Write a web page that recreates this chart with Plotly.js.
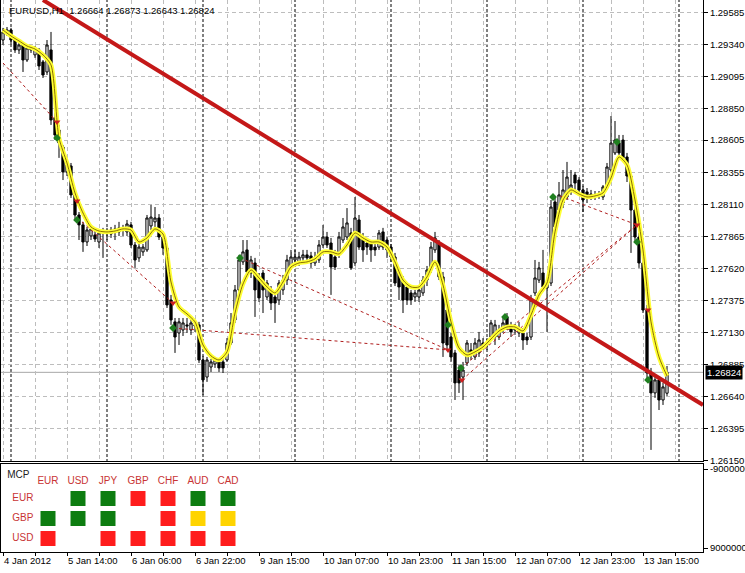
<!DOCTYPE html>
<html>
<head>
<meta charset="utf-8">
<script src="https://cdn.plot.ly/plotly-3.0.1.min.js"></script>
<style>html,body{margin:0;padding:0;background:#fff;}#chart{width:745px;height:573px;}</style>
</head>
<body>
<div id="chart"></div>
<script>
// ---------- DATA (EURUSD H1, bar index = hourly bar number) ----------
const openP = [
1.29373,1.29435,1.29450,1.29373,1.29297,1.29335,1.29220,1.29312,1.29259,1.29297,
1.29205,1.29128,1.29297,1.28775,1.28683,1.28552,1.28361,1.28407,1.28185,1.28031,
1.27955,1.27824,1.27870,1.27878,1.27824,1.27901,1.27893,1.27885,1.27908,1.27901,
1.27924,1.27901,1.27955,1.27801,1.27702,1.27748,1.27763,1.27947,1.27978,1.28008,
1.27862,1.27778,1.27379,1.27211,1.27126,1.27149,1.27188,1.27149,1.27180,1.27188,
1.26919,1.26788,1.26865,1.26888,1.26904,1.26904,1.26919,1.27049,1.27226,1.27456,
1.27671,1.27763,1.27586,1.27663,1.27556,1.27586,1.27402,1.27456,1.27402,1.27379,
1.27456,1.27532,1.27632,1.27686,1.27663,1.27702,1.27725,1.27717,1.27663,1.27686,
1.27801,1.27862,1.27816,1.27709,1.27740,1.27839,1.27862,1.27893,1.27663,1.27993,
1.27855,1.27816,1.27816,1.27785,1.27785,1.27901,1.27839,1.27785,1.27709,1.27586,
1.27532,1.27479,1.27433,1.27402,1.27402,1.27433,1.27532,1.27609,1.27763,1.27816,
1.27556,1.27302,1.27095,1.26973,1.26842,1.26788,1.26896,1.26996,1.26942,1.26973,
1.27049,1.27034,1.27095,1.27095,1.27095,1.27149,1.27249,1.27157,1.27149,1.27126,
1.27126,1.27095,1.27095,1.27433,1.27532,1.27586,1.27471,1.27509,1.28131,1.28069,
1.28123,1.28169,1.28223,1.28338,1.28299,1.28223,1.28208,1.28192,1.28185,1.28177,
1.28169,1.28238,1.28376,1.28507,1.28583,1.28606,1.28476,1.28330,1.28069,1.27862,
1.27663,1.27302,1.26819,1.26666,1.26766,1.26612,1.26664];
const highP = [
1.29466,1.29473,1.29466,1.29389,1.29350,1.29342,1.29335,1.29327,1.29327,1.29312,
1.29220,1.29373,1.29435,1.28813,1.28722,1.28568,1.28453,1.28430,1.28208,1.28054,
1.27978,1.27939,1.27947,1.27916,1.27916,1.27932,1.27932,1.27939,1.27955,1.27978,
1.27955,1.27993,1.27978,1.27824,1.27808,1.27808,1.28031,1.28108,1.28092,1.28038,
1.27901,1.27801,1.27418,1.27241,1.27241,1.27241,1.27241,1.27233,1.27218,1.27211,
1.26950,1.26942,1.26927,1.26942,1.26919,1.26927,1.27087,1.27279,1.27494,1.27725,
1.27839,1.27839,1.27717,1.27702,1.27586,1.27609,1.27532,1.27486,1.27441,1.27532,
1.27571,1.27725,1.27763,1.27763,1.27748,1.27763,1.27763,1.27748,1.27748,1.27839,
1.27955,1.27901,1.27855,1.27763,1.27901,1.28008,1.28084,1.27932,1.28169,1.28031,
1.27893,1.27855,1.27839,1.27816,1.27916,1.27932,1.27862,1.27808,1.27740,1.27609,
1.27563,1.27509,1.27456,1.27456,1.27486,1.27563,1.27640,1.27824,1.27901,1.27839,
1.27594,1.27341,1.27126,1.26996,1.26881,1.26904,1.27072,1.27049,1.27087,1.27134,
1.27087,1.27087,1.27226,1.27226,1.27188,1.27241,1.27279,1.27211,1.27195,1.27211,
1.27164,1.27126,1.27418,1.27686,1.27671,1.27763,1.27548,1.28146,1.28177,1.28284,
1.28376,1.28438,1.28376,1.28361,1.28322,1.28254,1.28238,1.28223,1.28215,1.28215,
1.28261,1.28430,1.28790,1.28752,1.28645,1.28645,1.28507,1.28346,1.28108,1.27893,
1.27702,1.27341,1.26858,1.26804,1.26796,1.26743,1.26873];
const lowP = [
1.29335,1.29404,1.29335,1.29274,1.29266,1.29128,1.29205,1.29274,1.29236,1.29143,
1.29082,1.29105,1.28722,1.28606,1.28469,1.28299,1.28330,1.28162,1.27993,1.27839,
1.27748,1.27793,1.27839,1.27824,1.27778,1.27702,1.27839,1.27855,1.27839,1.27870,
1.27870,1.27870,1.27778,1.27625,1.27671,1.27717,1.27748,1.27916,1.27932,1.27839,
1.27725,1.27318,1.27188,1.26973,1.27034,1.27103,1.27126,1.27111,1.27134,1.26896,
1.26651,1.26751,1.26827,1.26858,1.26827,1.26819,1.26904,1.27034,1.27203,1.27441,
1.27648,1.27571,1.27548,1.27249,1.27364,1.27279,1.27379,1.27302,1.27203,1.27341,
1.27418,1.27494,1.27609,1.27632,1.27640,1.27671,1.27655,1.27625,1.27640,1.27663,
1.27778,1.27778,1.27418,1.27609,1.27702,1.27816,1.27839,1.27609,1.27640,1.27763,
1.27671,1.27725,1.27671,1.27717,1.27763,1.27763,1.27702,1.27671,1.27486,1.27379,
1.27279,1.27341,1.27341,1.27364,1.27364,1.27410,1.27486,1.27586,1.27740,1.27532,
1.26942,1.26996,1.26904,1.26612,1.26666,1.26612,1.26873,1.26919,1.26919,1.26942,
1.26996,1.26996,1.27072,1.27034,1.27072,1.27126,1.27149,1.27095,1.27111,1.27095,
1.26996,1.27034,1.27072,1.27410,1.27509,1.27441,1.27134,1.27486,1.27916,1.28031,
1.28084,1.28146,1.28185,1.28223,1.28208,1.28054,1.28123,1.28146,1.28146,1.28154,
1.28146,1.28223,1.28361,1.28491,1.28491,1.28438,1.28284,1.27740,1.27824,1.27625,
1.27279,1.26781,1.26229,1.26628,1.26535,1.26574,1.26643];
const closeP = [
1.29435,1.29450,1.29373,1.29297,1.29335,1.29220,1.29312,1.29297,1.29312,1.29174,
1.29105,1.29335,1.28760,1.28645,1.28583,1.28361,1.28415,1.28185,1.28031,1.27955,
1.27824,1.27916,1.27924,1.27847,1.27893,1.27893,1.27901,1.27916,1.27924,1.27932,
1.27916,1.27962,1.27801,1.27686,1.27785,1.27785,1.28008,1.28015,1.28008,1.27862,
1.27778,1.27341,1.27226,1.27095,1.27211,1.27203,1.27180,1.27203,1.27188,1.26919,
1.26766,1.26919,1.26904,1.26919,1.26858,1.26858,1.27049,1.27203,1.27456,1.27686,
1.27748,1.27594,1.27686,1.27456,1.27395,1.27456,1.27509,1.27356,1.27356,1.27509,
1.27532,1.27686,1.27709,1.27709,1.27709,1.27725,1.27702,1.27663,1.27702,1.27801,
1.27862,1.27801,1.27632,1.27632,1.27862,1.27939,1.27970,1.27625,1.28008,1.27785,
1.27763,1.27785,1.27763,1.27763,1.27893,1.27785,1.27763,1.27709,1.27509,1.27479,
1.27379,1.27379,1.27379,1.27433,1.27456,1.27532,1.27609,1.27785,1.27855,1.27556,
1.27049,1.27034,1.26942,1.26743,1.26743,1.26842,1.27049,1.26973,1.27049,1.27072,
1.27019,1.27049,1.27203,1.27188,1.27149,1.27203,1.27157,1.27134,1.27164,1.27157,
1.27072,1.27072,1.27379,1.27548,1.27625,1.27479,1.27509,1.28092,1.27939,1.28185,
1.28223,1.28322,1.28261,1.28276,1.28223,1.28146,1.28169,1.28177,1.28169,1.28185,
1.28246,1.28399,1.28583,1.28606,1.28507,1.28469,1.28330,1.28069,1.27862,1.27663,
1.27302,1.26819,1.26666,1.26766,1.26612,1.26712,1.26824];

// Moving average read every 2 bars (bar 0,2,4,...)
const maValues = [
1.29450,1.29404,1.29366,1.29327,1.29304,1.29259,1.29182,1.28622,1.28430,1.28200,
1.28046,1.27939,1.27908,1.27901,1.27908,1.27924,1.27916,1.27824,1.27855,1.27924,
1.27885,1.27517,1.27325,1.27272,1.27211,1.27034,1.26950,1.26919,1.26981,1.27279,
1.27502,1.27609,1.27548,1.27479,1.27433,1.27517,1.27632,1.27663,1.27671,1.27694,
1.27748,1.27748,1.27732,1.27801,1.27893,1.27855,1.27824,1.27824,1.27785,1.27671,
1.27532,1.27479,1.27479,1.27556,1.27671,1.27494,1.27211,1.27011,1.26957,1.26981,
1.27019,1.27080,1.27141,1.27172,1.27172,1.27141,1.27264,1.27418,1.27509,1.27901,
1.28146,1.28223,1.28192,1.28169,1.28177,1.28200,1.28315,1.28476,1.28415,1.28146,
1.27763,1.27211,1.26942,1.26796];

// Signal arrows
const greenBar   = [13.5, 18.5, 42.5, 59.25, 111.25, 114.5, 125.5, 137.5, 153.5, 158.5, 161.25];
const greenPrice = [1.28622,1.27993,1.27164,1.27702,1.27188,1.26858,1.27249,1.28169,1.28591,1.27824,1.26766];
const redBar     = [13.5, 18.5, 42.5, 111.25, 114.75, 158.5, 161.25];
const redPrice   = [1.28745,1.28138,1.27356,1.26996,1.26766,1.27955,1.27302];

// Thin dashed pattern lines (start bar/price -> end bar/price)
const dashX0 = [0, 19.75, 42.5, 59.25, 114.75, 114.5, 139.25];
const dashY0 = [1.29197,1.27978,1.27164,1.27702,1.26766,1.26858,1.28177];
const dashX1 = [13.5, 42.5, 111.25, 111.25, 158.5, 158.5, 158.5];
const dashY1 = [1.28745,1.27356,1.26996,1.26996,1.27955,1.27955,1.27955];

// Trend line
const trendBar   = [10, 175];
const trendPrice = [1.29680, 1.26574];

// Axis
const priceTicks = [1.29585,1.29340,1.29095,1.28850,1.28605,1.28355,1.28110,1.27865,1.27620,1.27375,1.27130,1.26885,1.26640,1.26395,1.26150];
const timeTickBars = [0,16,32,48,64,80,96,112,128,144,160];
const timeTickText = ['4 Jan 2012','5 Jan 14:00','6 Jan 06:00','6 Jan 22:00','9 Jan 15:00','10 Jan 07:00','10 Jan 23:00','11 Jan 15:00','12 Jan 07:00','12 Jan 23:00','13 Jan 15:00'];
const separatorBars = [2, 26, 50, 73, 97, 121, 145, 169];

// MCP panel matrix
const mcpCols = ['EUR','USD','JPY','GBP','CHF','AUD','CAD'];
const mcpRows = ['EUR','GBP','USD'];
const mcpState = [
  [null,'up','up','down','down','up','up'],
  ['up','up','up',null,'down','flat','flat'],
  ['down',null,'down','down','down','down','down']
];
const indMin = 9000000, indMax = -9000000;

// ---------- BUILD ----------
const nBars = closeP.length;
const bars = closeP.map((_, i) => i);
const maBars = maValues.map((_, k) => 2 * k);
const gridBars = [];
for (let b = 0; b <= 168; b += 8) gridBars.push(b);
const gridText = gridBars.map(b => { const k = timeTickBars.indexOf(b); return k >= 0 ? timeTickText[k] : ''; });

const dx = [], dy = [];
for (let k = 0; k < dashX0.length; k++) { dx.push(dashX0[k], dashX1[k], null); dy.push(dashY0[k], dashY1[k], null); }

const FONT = '"Liberation Sans", Arial, sans-serif';
const GRID = '#bdbdbd';

const traces = [
  {type:'scatter', mode:'lines', x:dx, y:dy, xaxis:'x', yaxis:'y', line:{color:'#b01e1e', width:1, dash:'3px,3px'}, hoverinfo:'skip'},
  {type:'candlestick', x:bars, open:openP, high:highP, low:lowP, close:closeP, xaxis:'x', yaxis:'y',
   increasing:{line:{color:'#000', width:1}, fillcolor:'#ffffff'},
   decreasing:{line:{color:'#000', width:1}, fillcolor:'#000000'}, whiskerwidth:0, hoverinfo:'skip'},
  {type:'scatter', mode:'lines', x:maBars, y:maValues, xaxis:'x', yaxis:'y', line:{color:'#ffff33', width:4.5, shape:'spline', smoothing:0.7}, hoverinfo:'skip'},
  {type:'scatter', mode:'lines', x:maBars, y:maValues, xaxis:'x', yaxis:'y', line:{color:'#8a7000', width:1, shape:'spline', smoothing:0.7}, hoverinfo:'skip'},
  {type:'scatter', mode:'lines', x:trendBar, y:trendPrice, xaxis:'x', yaxis:'y', line:{color:'#c41818', width:4}, hoverinfo:'skip'},
  {type:'scatter', mode:'markers', x:greenBar, y:greenPrice, xaxis:'x', yaxis:'y', marker:{symbol:'diamond', size:6, color:'#1f7f1f'}, hoverinfo:'skip'},
  {type:'scatter', mode:'markers', x:redBar, y:redPrice, xaxis:'x', yaxis:'y', marker:{symbol:'triangle-down', size:6, color:'#cc2020'}, hoverinfo:'skip'}
];

// MCP squares
const colorMap = {up:'#0d7d10', down:'#ff1c1c', flat:'#ffd400'};
['up','down','flat'].forEach(st => {
  const xs = [], ys = [];
  mcpState.forEach((row, r) => row.forEach((s, c) => { if (s === st) { xs.push(c); ys.push(r); } }));
  traces.push({type:'scatter', mode:'markers', x:xs, y:ys, xaxis:'x3', yaxis:'y3', marker:{symbol:'square', size:15, color:colorMap[st], line:{width:0}}, hoverinfo:'skip'});
});
traces.push({type:'scatter', mode:'text', x:mcpCols.map((_, c) => c), y:mcpCols.map(() => -0.83), text:mcpCols, textposition:'middle center', textfont:{family:FONT, size:10, color:'#c83434'}, xaxis:'x3', yaxis:'y3', hoverinfo:'skip'});
traces.push({type:'scatter', mode:'text', x:mcpRows.map(() => -0.84), y:mcpRows.map((_, r) => r), text:mcpRows, textposition:'middle center', textfont:{family:FONT, size:10, color:'#c83434'}, xaxis:'x3', yaxis:'y3', hoverinfo:'skip'});
traces.push({type:'scatter', mode:'text', x:[-1.36], y:[-1.13], text:['MCP'], textposition:'middle right', textfont:{family:FONT, size:10, color:'#222'}, xaxis:'x3', yaxis:'y3', hoverinfo:'skip'});

const last = nBars - 1;
const fmt = v => v.toFixed(5);

const shapes = separatorBars.map(b => ({type:'line', xref:'x', yref:'paper', x0:b, x1:b, y0:0, y1:1, layer:'below', line:{color:'#000', width:1, dash:'3px,2px'}}));
shapes.push({type:'line', xref:'paper', yref:'y', x0:0, x1:1, y0:closeP[last], y1:closeP[last], layer:'below', line:{color:'#a8a8a8', width:1}});
shapes.push({type:'line', xref:'paper', yref:'y2', x0:0, x1:1, y0:0, y1:0, layer:'below', line:{color:GRID, width:1, dash:'4px,3px'}});

const mainDomain = [0.16486, 1];
const indDomain = [0, 0.15942];
const yPerPx = (indMin - indMax) / 79;

const layout = {
  width:745, height:573, margin:{l:1, r:42, t:0, b:21},
  paper_bgcolor:'#ffffff', plot_bgcolor:'#ffffff', showlegend:false,
  font:{family:FONT, size:10, color:'#000'},
  boxgap:0.2,
  xaxis:{domain:[0,1], anchor:'y', range:[-0.5,175], tickvals:gridBars, showticklabels:false, ticks:'',
         showgrid:true, gridcolor:GRID, griddash:'4px,3px', showline:true, linecolor:'#000', linewidth:1, mirror:true,
         zeroline:false, rangeslider:{visible:false}, fixedrange:true},
  yaxis:{domain:mainDomain, anchor:'x', side:'right', range:[1.26144, 1.29680], tickvals:priceTicks, ticktext:priceTicks.map(fmt),
         ticks:'outside', ticklen:4, tickcolor:'#000', tickfont:{family:FONT, size:9.5, color:'#000'},
         showgrid:true, gridcolor:GRID, griddash:'4px,3px', showline:true, linecolor:'#000', linewidth:1, mirror:true, zeroline:false, fixedrange:true},
  xaxis2:{domain:[0,1], anchor:'y2', range:[-0.5,175], tickvals:gridBars, ticktext:gridText, ticklabelposition:'outside right',
          ticks:'outside', ticklen:3, tickcolor:'#000', tickfont:{family:FONT, size:9.5, color:'#000'},
          showgrid:true, gridcolor:GRID, griddash:'4px,3px', showline:true, linecolor:'#000', linewidth:1, mirror:true, zeroline:false, fixedrange:true},
  yaxis2:{domain:indDomain, anchor:'x2', side:'right', range:[indMin + 4*yPerPx, indMax - 5*yPerPx], tickvals:[indMax, indMin],
          ticktext:[String(indMax), String(indMin)], ticks:'outside', ticklen:4, tickcolor:'#000', tickfont:{family:FONT, size:9.5, color:'#000'},
          showgrid:false, showline:true, linecolor:'#000', linewidth:1, mirror:true, zeroline:false, fixedrange:true},
  xaxis3:{domain:[0,1], anchor:'y3', range:[-1.5667, 21.833], visible:false, fixedrange:true},
  yaxis3:{domain:indDomain, anchor:'x3', range:[2.675, -1.725], visible:false, fixedrange:true},
  shapes: shapes,
  annotations:[
    {xref:'paper', yref:'paper', x:0.008, y:1, xanchor:'left', yanchor:'top', yshift:-3, showarrow:false,
     text:'EURUSD,H1  ' + [openP[last], highP[last], lowP[last], closeP[last]].map(fmt).join(' '),
     font:{family:FONT, size:9.5, color:'#000'}},
    {xref:'paper', yref:'y', x:1, y:closeP[last], xanchor:'left', yanchor:'middle', xshift:2, showarrow:false,
     text:fmt(closeP[last]), bgcolor:'#000', borderpad:1, font:{family:FONT, size:9.5, color:'#fff'}}
  ]
};

Plotly.newPlot('chart', traces, layout, {staticPlot:true, displayModeBar:false});
</script>
</body>
</html>
